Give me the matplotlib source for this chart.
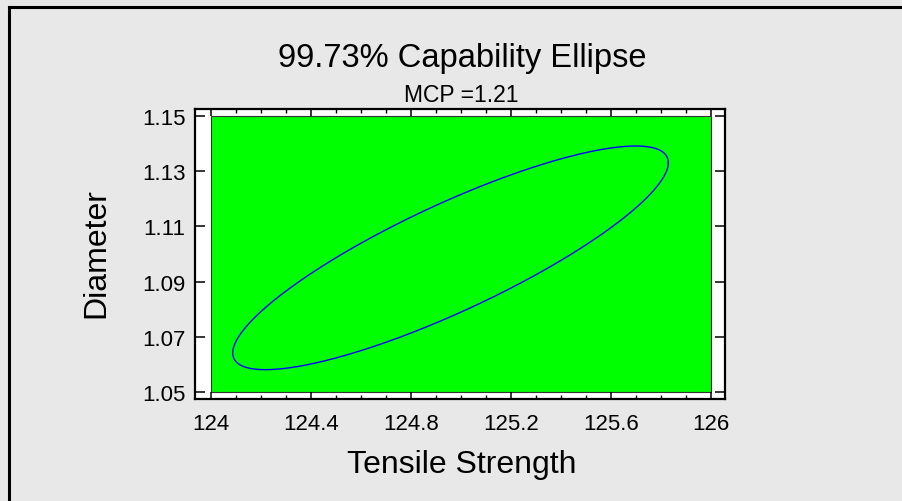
import numpy as np
import matplotlib
matplotlib.use("Agg")
import matplotlib.pyplot as plt
from matplotlib.patches import Rectangle
from matplotlib.lines import Line2D
from matplotlib.ticker import MultipleLocator

# spec limits (green region)
x_spec = [124.0, 126.0]
y_spec = [1.05, 1.15]

# ellipse
center = [124.959, 1.0986]
half_size = [0.872, 0.0405]
corr = 0.85

x_ticks = [124, 124.4, 124.8, 125.2, 125.6, 126]
y_ticks = [1.05, 1.07, 1.09, 1.11, 1.13, 1.15]

plt.rcParams["font.family"] = ["Liberation Sans", "DejaVu Sans"]

fig = plt.figure(figsize=(9.02, 5.02), dpi=100, facecolor="#e8e8e8")
ax = fig.add_axes([0.2162, 0.2022, 0.5876, 0.5787])
ax.set_facecolor("white")

ax.add_patch(Rectangle((x_spec[0], y_spec[0]), x_spec[1] - x_spec[0], y_spec[1] - y_spec[0],
                       facecolor="#00ff00", edgecolor="#333333", lw=0.8, zorder=1))

t = np.linspace(0, 2 * np.pi, 400)
ex = center[0] + half_size[0] * np.cos(t)
ey = center[1] + half_size[1] * (corr * np.cos(t) + np.sqrt(1 - corr ** 2) * np.sin(t))
ax.plot(ex, ey, color="#0000ff", lw=1.0, zorder=2)

ax.set_xlim(123.936, 126.058)
ax.set_ylim(1.0473, 1.1525)
ax.set_xticks(x_ticks)
ax.set_xticklabels(["124", "124.4", "124.8", "125.2", "125.6", "126"])
ax.set_yticks(y_ticks)
ax.set_yticklabels(["%.2f" % v for v in y_ticks])
ax.xaxis.set_minor_locator(MultipleLocator(0.1))

ax.tick_params(axis="x", which="major", direction="in", length=5, width=1.1,
               top=True, labelsize=16, pad=9.5)
ax.tick_params(axis="x", which="minor", direction="in", length=3, width=1.0, top=True)
ax.tick_params(axis="y", which="major", direction="in", length=7, width=1.1,
               right=True, labelsize=16, pad=7)
for s in ax.spines.values():
    s.set_linewidth(1.6)

fig.text(0.512, 0.867, "99.73% Capability Ellipse", fontsize=23.5, ha="center", va="baseline")
fig.text(0.511, 0.797, "MCP =1.21", fontsize=16.5, ha="center", va="baseline")
fig.text(0.512, 0.0572, "Tensile Strength", fontsize=23, ha="center", va="baseline")
fig.text(0.1064, 0.496, "Diameter", fontsize=23, rotation=90, ha="center", va="center")

# frame border (top and left)
fig.add_artist(Line2D([0.0105, 1.0], [0.985, 0.985], color="black", lw=2.2,
                      transform=fig.transFigure))
fig.add_artist(Line2D([0.0105, 0.0105], [0.0, 0.985], color="black", lw=2.2,
                      transform=fig.transFigure))

fig.savefig("out.png", dpi=100, facecolor=fig.get_facecolor())
